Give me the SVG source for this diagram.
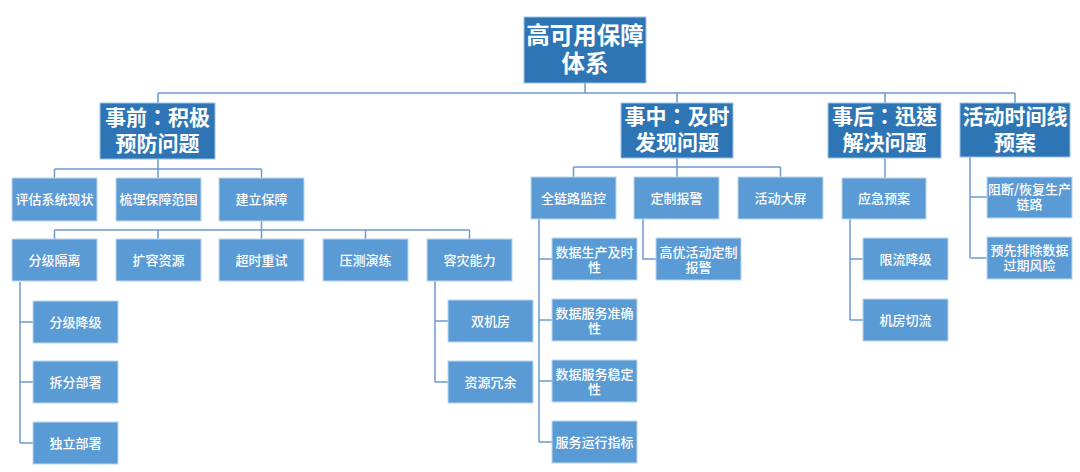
<svg xmlns="http://www.w3.org/2000/svg" width="1080" height="472" viewBox="0 0 1080 472">
<style>
.dk{fill:#2E75B6;stroke:#9DC3E6;stroke-width:1}
.lt{fill:#5B9BD5;stroke:#BDD7EE;stroke-width:1}
.t0{font-family:"Noto Sans CJK SC","Microsoft YaHei",sans-serif;font-size:23.5px;font-weight:bold;fill:#fff;text-anchor:middle}
.t1{font-family:"Noto Sans CJK TC","Noto Sans CJK SC",sans-serif;font-size:21px;font-weight:bold;fill:#fff;text-anchor:middle}
.t2{font-family:"Noto Sans CJK SC","Microsoft YaHei",sans-serif;font-size:13px;font-weight:500;fill:#fff;text-anchor:middle}
.ln{fill:none;stroke:#6B9BD1;stroke-width:1.5}
</style>
<rect width="1080" height="472" fill="#fff"/>
<g id="connectors" class="ln">
<path d="M585 83V93M158 93H1015M158 93V103M677 93V103M885 93V103M1015 93V103"/>
<path d="M158 159V169M54.5 169H261.5M54.5 169V178M158 169V178M261.5 169V178"/>
<path d="M261.5 221V230M54.5 230H469.5M54.5 230V239M158 230V239M261.5 230V239M365.5 230V239M469.5 230V239"/>
<path d="M20 282V443M20 322H33M20 382H33M20 443H33"/>
<path d="M435 281V382M435 321H448M435 382H448"/>
<path d="M677 158V167M573.5 167H780.5M573.5 167V177M677 167V177M780.5 167V177"/>
<path d="M539 219V442M539 259H552M539 320H552M539 381H552M539 442H552"/>
<path d="M643 219V259H656"/>
<path d="M885 158V178M850 219V320M850 259H863M850 320H863"/>
<path d="M970 157V258M970 197H987M970 258H987"/>
</g>
<g id="root"><rect class="dk" x="524" y="17" width="122" height="66"/><text class="t0" x="585" y="43.5">高可用保障<tspan x="585" dy="28">体系</tspan></text></g>
<g id="n-before"><rect class="dk" x="100" y="103" width="115" height="56"/><text class="t1" x="157.5" y="124.5">事前：积极<tspan x="157.5" dy="26">预防问题</tspan></text></g>
<g id="n-during"><rect class="dk" x="621" y="103" width="112" height="55"/><text class="t1" x="677" y="124">事中：及时<tspan x="677" dy="26">发现问题</tspan></text></g>
<g id="n-after"><rect class="dk" x="828" y="103" width="113" height="55"/><text class="t1" x="884.5" y="124">事后：迅速<tspan x="884.5" dy="26">解决问题</tspan></text></g>
<g id="n-timeline"><rect class="dk" x="960" y="103" width="110" height="54"/><text class="t1" x="1015" y="123.5">活动时间线<tspan x="1015" dy="26">预案</tspan></text></g>
<g id="n-assess"><rect class="lt" x="12" y="178" width="85" height="43"/><text class="t2" x="54.5" y="204">评估系统现状</text></g>
<g id="n-scope"><rect class="lt" x="116" y="178" width="85" height="43"/><text class="t2" x="158.5" y="204">梳理保障范围</text></g>
<g id="n-build"><rect class="lt" x="219" y="178" width="85" height="43"/><text class="t2" x="261.5" y="204">建立保障</text></g>
<g id="n-isolate"><rect class="lt" x="12" y="239" width="85" height="42"/><text class="t2" x="54.5" y="264.5">分级隔离</text></g>
<g id="n-expand"><rect class="lt" x="116" y="239" width="85" height="42"/><text class="t2" x="158.5" y="264.5">扩容资源</text></g>
<g id="n-retry"><rect class="lt" x="219" y="239" width="85" height="42"/><text class="t2" x="261.5" y="264.5">超时重试</text></g>
<g id="n-stress"><rect class="lt" x="323" y="239" width="85" height="42"/><text class="t2" x="365.5" y="264.5">压测演练</text></g>
<g id="n-dr"><rect class="lt" x="427" y="239" width="85" height="42"/><text class="t2" x="469.5" y="264.5">容灾能力</text></g>
<g id="n-degrade"><rect class="lt" x="33" y="301" width="85" height="42"/><text class="t2" x="75.5" y="326.5">分级降级</text></g>
<g id="n-split"><rect class="lt" x="33" y="361" width="85" height="42"/><text class="t2" x="75.5" y="386.5">拆分部署</text></g>
<g id="n-indep"><rect class="lt" x="33" y="422" width="85" height="42"/><text class="t2" x="75.5" y="447.5">独立部署</text></g>
<g id="n-dual"><rect class="lt" x="448" y="300" width="85" height="42"/><text class="t2" x="490.5" y="325.5">双机房</text></g>
<g id="n-redund"><rect class="lt" x="448" y="361" width="85" height="42"/><text class="t2" x="490.5" y="386.5">资源冗余</text></g>
<g id="n-trace"><rect class="lt" x="531" y="177" width="85" height="42"/><text class="t2" x="573.5" y="202.5">全链路监控</text></g>
<g id="n-alert"><rect class="lt" x="634" y="177" width="85" height="42"/><text class="t2" x="676.5" y="202.5">定制报警</text></g>
<g id="n-screen"><rect class="lt" x="738" y="177" width="85" height="42"/><text class="t2" x="780.5" y="202.5">活动大屏</text></g>
<g id="n-d1"><rect class="lt" x="552" y="238" width="85" height="42"/><text class="t2" x="594.5" y="256.5">数据生产及时<tspan x="594.5" dy="15">性</tspan></text></g>
<g id="n-d2"><rect class="lt" x="552" y="299" width="85" height="42"/><text class="t2" x="594.5" y="317.5">数据服务准确<tspan x="594.5" dy="15">性</tspan></text></g>
<g id="n-d3"><rect class="lt" x="552" y="360" width="85" height="42"/><text class="t2" x="594.5" y="378.5">数据服务稳定<tspan x="594.5" dy="15">性</tspan></text></g>
<g id="n-d4"><rect class="lt" x="552" y="421" width="85" height="42"/><text class="t2" x="594.5" y="446.5">服务运行指标</text></g>
<g id="n-hp"><rect class="lt" x="656" y="238" width="85" height="42"/><text class="t2" x="698.5" y="256.5">高优活动定制<tspan x="698.5" dy="15">报警</tspan></text></g>
<g id="n-plan"><rect class="lt" x="842" y="178" width="84" height="41"/><text class="t2" x="884" y="203">应急预案</text></g>
<g id="n-limit"><rect class="lt" x="863" y="238" width="85" height="42"/><text class="t2" x="905.5" y="263.5">限流降级</text></g>
<g id="n-switch"><rect class="lt" x="863" y="299" width="85" height="42"/><text class="t2" x="905.5" y="324.5">机房切流</text></g>
<g id="n-block"><rect class="lt" x="987" y="177" width="85" height="41"/><text class="t2" x="1029.5" y="194">阻断/恢复生产<tspan x="1029.5" dy="15">链路</tspan></text></g>
<g id="n-expire"><rect class="lt" x="987" y="237" width="85" height="42"/><text class="t2" x="1029.5" y="254.5">预先排除数据<tspan x="1029.5" dy="15">过期风险</tspan></text></g>
</svg>
